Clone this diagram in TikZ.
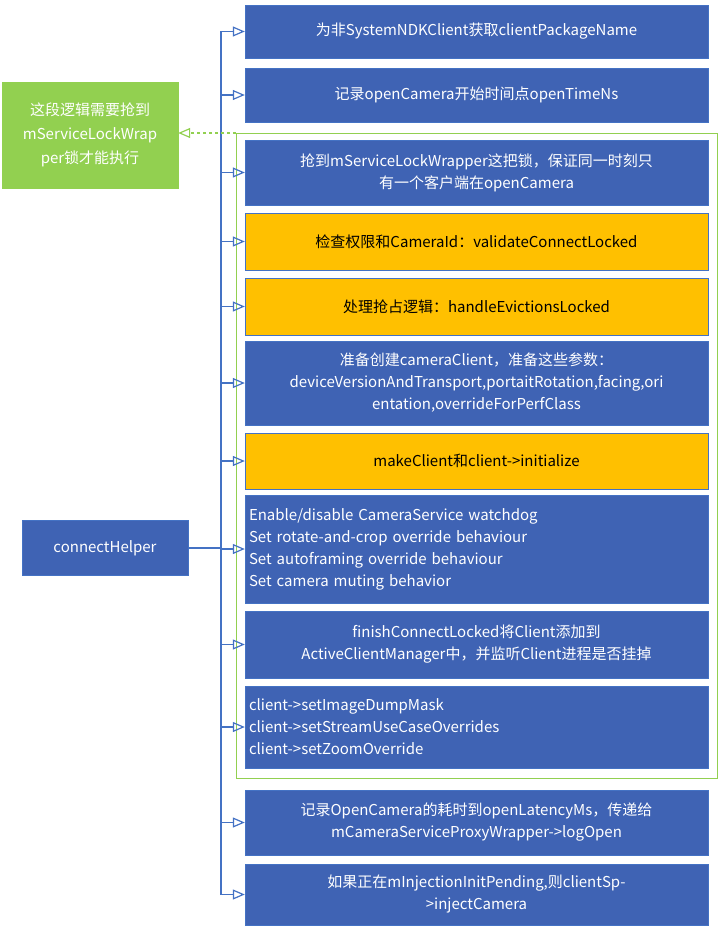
\documentclass[tikz,border=0pt]{standalone}
\usepackage{fontspec}
\setmainfont{Noto Sans CJK SC}
\usetikzlibrary{arrows.meta}
\definecolor{stepblue}{HTML}{4472C4}
\definecolor{stepfill}{HTML}{3F63B4}
\definecolor{steporange}{HTML}{FFC000}
\definecolor{notegreen}{HTML}{92D050}
\tikzset{
  blk/.style={draw=stepblue, fill=stepfill, text=white, minimum width=463pt,
    inner sep=4pt, font=\fontsize{15}{22}\selectfont, align=center},
  blkl/.style={blk, align=left, text width=455pt},
  org/.style={blk, fill=steporange, text=black, draw=stepblue},
  link/.style={draw=stepblue, line width=1.2pt, -{Triangle[open,length=12pt,width=10pt]}},
}
\begin{document}
\begin{tikzpicture}[x=1pt,y=-1pt]
\useasboundingbox (0,0) rectangle (718,931);
% group frame
\draw[notegreen, line width=0.8pt] (236,133) rectangle (717,778);
% step boxes
\node[blk, minimum height=53pt] (s1) at (476.5,31.5) {为非SystemNDKClient获取clientPackageName};
\node[blk, minimum height=54pt] (s2) at (476.5,95) {记录openCamera开始时间点openTimeNs};
\node[blk, minimum height=65pt] (s3) at (476.5,172.5) {抢到mServiceLockWrapper这把锁，保证同一时刻只\\有一个客户端在openCamera};
\node[org, minimum height=57pt] (s4) at (476.5,241.5) {检查权限和CameraId：validateConnectLocked};
\node[org, minimum height=57pt] (s5) at (476.5,306.5) {处理抢占逻辑：handleEvictionsLocked};
\node[blk, minimum height=84pt] (s6) at (476.5,383) {准备创建cameraClient，准备这些参数：\\deviceVersionAndTransport,portaitRotation,facing,ori\\entation,overrideForPerfClass};
\node[org, minimum height=56pt] (s7) at (476.5,461) {makeClient和client->initialize};
\node[blkl, minimum height=108pt] (s8) at (476.5,549) {Enable/disable CameraService watchdog\\Set rotate-and-crop override behaviour\\Set autoframing override behaviour\\Set camera muting behavior};
\node[blk, minimum height=67pt] (s9) at (476.5,644.5) {finishConnectLocked将Client添加到\\ActiveClientManager中，并监听Client进程是否挂掉};
\node[blkl, minimum height=82pt] (s10) at (476.5,727) {client->setImageDumpMask\\client->setStreamUseCaseOverrides\\client->setZoomOverride};
\node[blk, minimum height=65pt] (s11) at (476.5,822.5) {记录OpenCamera的耗时到openLatencyMs，传递给\\mCameraServiceProxyWrapper->logOpen};
\node[blk, minimum height=61pt] (s12) at (476.5,894.5) {如果正在mInjectionInitPending,则clientSp-\\>injectCamera};
% left nodes
\node[draw=stepblue, fill=stepfill, text=white, minimum width=166pt, minimum height=55pt,
  font=\fontsize{15}{20}\selectfont] (main) at (105,548) {connectHelper};
\node[draw=notegreen, fill=notegreen, text=white, minimum width=176pt, minimum height=106pt,
  align=center, font=\fontsize{15}{24}\selectfont] (note) at (90,135) {这段逻辑需要抢到\\mServiceLockWrap\\per锁才能执行};
% connectors
\coordinate (trunk) at (221,548);
\draw[stepblue, line width=1.2pt] (main.east) -- (trunk);
\foreach \s in {s1,s2,s3,s4,s5,s6,s7,s8,s9,s10,s11,s12}
  \draw[link] (trunk) |- (\s.west);
\coordinate (frame) at (236,133);
\draw[notegreen, line width=1.2pt, dashed, -{Triangle[open,length=12pt,width=10pt]}] (frame) -- (note.east |- frame);
\end{tikzpicture}
\end{document}
